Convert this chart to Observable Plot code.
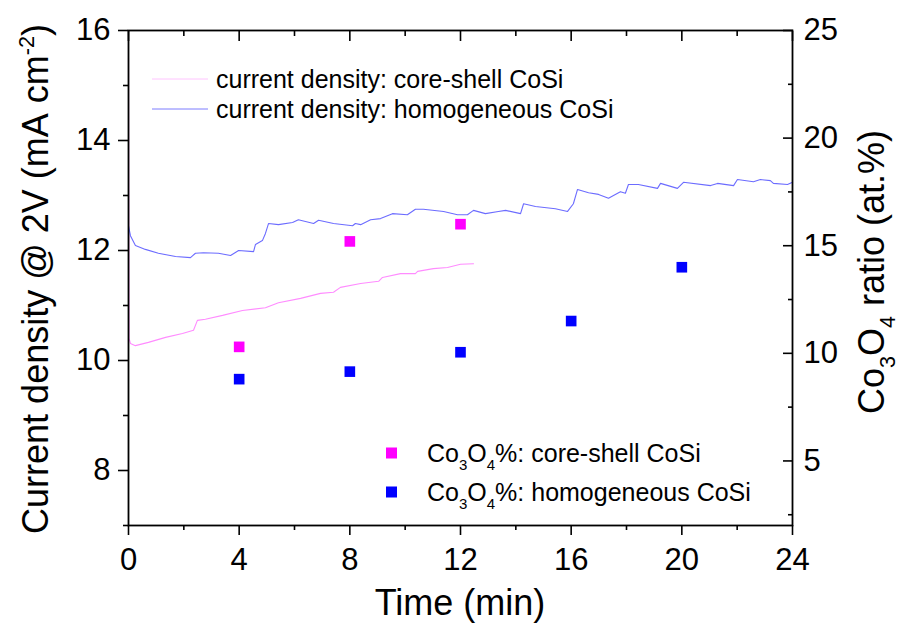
<!DOCTYPE html>
<html>
<head>
<meta charset="utf-8">
<script src="https://cdn.jsdelivr.net/npm/d3@7"></script>
<script src="https://cdn.jsdelivr.net/npm/@observablehq/plot@0.6"></script>
<style>
  html, body { margin: 0; padding: 0; background: #fff; }
  #chart { width: 902px; height: 623px; }
</style>
</head>
<body>
<div id="chart"></div>
<script>
// ---- data ----
const homTime = [0, 0.07, 0.25, 0.61, 1.08, 1.70, 2.24, 2.42, 2.71, 3.25, 3.69, 3.98, 4.52, 4.59, 4.84, 4.95, 5.06, 5.42, 5.93, 6.14, 6.69, 6.87, 7.41, 8.10, 8.20, 8.39, 8.75, 9.11, 9.54, 10.08, 10.37, 10.66, 11.39, 11.89, 12.25, 12.47, 12.90, 13.37, 13.63, 14.17, 14.28, 14.71, 15.43, 15.87, 16.08, 16.23, 16.63, 16.99, 17.35, 17.53, 17.78, 17.96, 18.07, 18.43, 19.12, 19.23, 19.84, 20.06, 21.04, 21.29, 21.87, 22.01, 22.59, 22.84, 23.20, 23.31, 23.82, 24.0];
const homCurrent = [12.45, 12.27, 12.09, 12.02, 11.95, 11.89, 11.87, 11.95, 11.96, 11.95, 11.91, 12.0, 11.98, 12.11, 12.18, 12.31, 12.49, 12.47, 12.51, 12.56, 12.49, 12.55, 12.49, 12.45, 12.49, 12.47, 12.56, 12.58, 12.67, 12.65, 12.75, 12.75, 12.71, 12.65, 12.65, 12.73, 12.67, 12.71, 12.73, 12.67, 12.85, 12.80, 12.76, 12.71, 12.85, 13.11, 13.05, 13.02, 12.95, 13.0, 13.07, 13.04, 13.2, 13.2, 13.13, 13.22, 13.13, 13.24, 13.18, 13.22, 13.18, 13.29, 13.25, 13.29, 13.27, 13.22, 13.2, 13.24];
const csTime = [0, 0.02, 0.07, 0.25, 0.72, 1.34, 1.95, 2.35, 2.49, 2.78, 3.40, 4.12, 4.95, 5.42, 6.22, 6.94, 7.41, 7.66, 8.39, 9.04, 9.18, 9.83, 10.37, 10.45, 11.02, 11.53, 12.0, 12.47];
const csCurrent = [15.5, 10.4, 10.31, 10.27, 10.33, 10.42, 10.49, 10.55, 10.73, 10.75, 10.82, 10.91, 10.96, 11.05, 11.13, 11.22, 11.24, 11.33, 11.40, 11.44, 11.51, 11.58, 11.58, 11.62, 11.67, 11.69, 11.75, 11.76];
const csRatioTime = [4, 8, 12];
const csRatio = [10.3, 15.2, 16.0];
const homRatioTime = [4, 8, 12, 16, 20];
const homRatio = [8.8, 9.15, 10.05, 11.5, 14.0];

const xMajor = [0, 4, 8, 12, 16, 20, 24];
const xMinor = [2, 6, 10, 14, 18, 22];
const yMajor = [8, 10, 12, 14, 16];
const yMinor = [7, 9, 11, 13, 15];
const rMajor = [5, 10, 15, 20, 25];
const rMinor = [2.5, 7.5, 12.5, 17.5, 22.5];

const xDomain = [0, 24];
const yDomain = [7, 16];
const rDomain = [2, 25];

// ---- legend / titles text ----
const legendLines = ["current density: core-shell CoSi", "current density: homogeneous CoSi"];
const legendDots = [["Co", {sub: "3"}, "O", {sub: "4"}, "%: core-shell CoSi"], ["Co", {sub: "3"}, "O", {sub: "4"}, "%: homogeneous CoSi"]];
const xTitle = ["Time (min)"];
const yTitle = ["Current density @ 2V (mA\u00a0cm", {sup: "-2"}, ")"];
const rTitle = ["Co", {sub: "3"}, "O", {sub: "4"}, "\u00a0ratio (at.%)"];

const pinkLine = "#ff8cff", blueLine = "#6c6cff";
const pinkLegendLine = "#ffc4ff", blueLegendLine = "#7c7cff";
const pinkDot = "#ff00ff", blueDot = "#0000ff";

// map right-axis values into left-axis units
const toLeft = r => yDomain[0] + (r - rDomain[0]) * (yDomain[1] - yDomain[0]) / (rDomain[1] - rDomain[0]);
const toRight = y => rDomain[0] + (y - yDomain[0]) * (rDomain[1] - rDomain[0]) / (yDomain[1] - yDomain[0]);

const hom = homTime.map((t, i) => ({t, v: homCurrent[i]}));
const cs = csTime.map((t, i) => ({t, v: csCurrent[i]}));
const csR = csRatioTime.map((t, i) => ({t, r: csRatio[i]}));
const homR = homRatioTime.map((t, i) => ({t, r: homRatio[i]}));

const FS = 31;
const svg = Plot.plot({
  width: 902, height: 623,
  marginLeft: 128, marginRight: 110, marginTop: 30, marginBottom: 98,
  x: {domain: xDomain},
  y: {domain: yDomain},
  style: {fontFamily: "'Liberation Sans', Arial, sans-serif", fontSize: FS + "px", color: "black", background: "white", overflow: "visible"},
  marks: [
    Plot.line(cs, {x: "t", y: "v", stroke: pinkLine, strokeWidth: 1.1}),
    Plot.line(hom, {x: "t", y: "v", stroke: blueLine, strokeWidth: 1.1}),
    Plot.dot(csR, {x: "t", y: d => toLeft(d.r), symbol: "square", r: 6, fill: pinkDot}),
    Plot.dot(homR, {x: "t", y: d => toLeft(d.r), symbol: "square", r: 6, fill: blueDot}),
    // bottom axis (outward ticks)
    Plot.axisX(xMajor, {anchor: "bottom", tickSize: 10, tickPadding: 12, strokeWidth: 1.6, fontSize: FS, label: null, tickFormat: d => String(d)}),
    Plot.axisX(xMinor, {anchor: "bottom", tickSize: 5, strokeWidth: 1.6, fill: "none", label: null}),
    // top axis (inward ticks)
    Plot.axisX(xMajor, {anchor: "top", tickSize: 10, dy: 10, strokeWidth: 1.6, fill: "none", label: null}),
    Plot.axisX(xMinor, {anchor: "top", tickSize: 5, dy: 5, strokeWidth: 1.6, fill: "none", label: null}),
    // left axis (outward ticks)
    Plot.axisY(yMajor, {anchor: "left", tickSize: 10, tickPadding: 8, strokeWidth: 1.6, fontSize: FS, label: null, tickFormat: d => String(d)}),
    Plot.axisY(yMinor, {anchor: "left", tickSize: 5, strokeWidth: 1.6, fill: "none", label: null}),
    // right axis (inward ticks), Co3O4 ratio scale
    Plot.axisY(rMajor.map(toLeft), {anchor: "right", tickSize: 10, dx: -10, strokeWidth: 1.6, fill: "none", label: null}),
    Plot.axisY(rMinor.map(toLeft), {anchor: "right", tickSize: 5, dx: -5, strokeWidth: 1.6, fill: "none", label: null}),
    Plot.axisY(rMajor.map(toLeft), {anchor: "right", tickSize: 0, tickPadding: 11, fontSize: FS, label: null, tickFormat: d => String(Math.round(toRight(d)))}),
    Plot.frame({stroke: "black", strokeWidth: 1.8})
  ]
});
document.getElementById("chart").appendChild(svg);

// ---- rich text helper (sub/superscripts) ----
function richText(sel, parts, size) {
  let shift = 0;
  sel.attr("font-size", size).style("white-space", "pre");
  for (const p of parts) {
    if (typeof p === "string") {
      sel.append("tspan").attr("dy", -shift).attr("font-size", size).text(p);
      shift = 0;
    } else if (p.sub) {
      const s = size * 0.3;
      sel.append("tspan").attr("dy", s - shift).attr("font-size", size * 0.6).text(p.sub);
      shift = s;
    } else if (p.sup) {
      const s = -size * 0.4;
      sel.append("tspan").attr("dy", s - shift).attr("font-size", size * 0.6).text(p.sup);
      shift = s;
    }
  }
}

const root = d3.select(svg);
const font = "'Liberation Sans', Arial, sans-serif";
const g = root.append("g").attr("font-family", font).attr("fill", "black").attr("text-anchor", "start");

// axis titles
richText(g.append("text").attr("x", 460).attr("y", 615).attr("text-anchor", "middle"), xTitle, 36);
richText(g.append("text").attr("transform", "translate(48,279) rotate(-90)").attr("text-anchor", "middle"), yTitle, 36);
richText(g.append("text").attr("transform", "translate(884,272) rotate(-90)").attr("text-anchor", "middle"), rTitle, 36);

// top-left legend (lines)
const lineColors = [pinkLegendLine, blueLegendLine];
legendLines.forEach((label, i) => {
  const y = 79 + i * 30;
  g.append("line").attr("x1", 152).attr("x2", 208).attr("y1", y).attr("y2", y)
    .attr("stroke", lineColors[i]).attr("stroke-width", 1);
  g.append("text").attr("x", 216).attr("y", y + 8.5).attr("font-size", 25).attr("text-anchor", "start").text(label);
});

// bottom legend (squares)
const dotColors = [pinkDot, blueDot];
legendDots.forEach((parts, i) => {
  const y = 453 + i * 39;
  g.append("rect").attr("x", 386).attr("y", y - 5.5).attr("width", 11).attr("height", 11).attr("fill", dotColors[i]);
  richText(g.append("text").attr("x", 427).attr("y", y + 9).attr("text-anchor", "start"), parts, 25);
});
</script>
</body>
</html>
